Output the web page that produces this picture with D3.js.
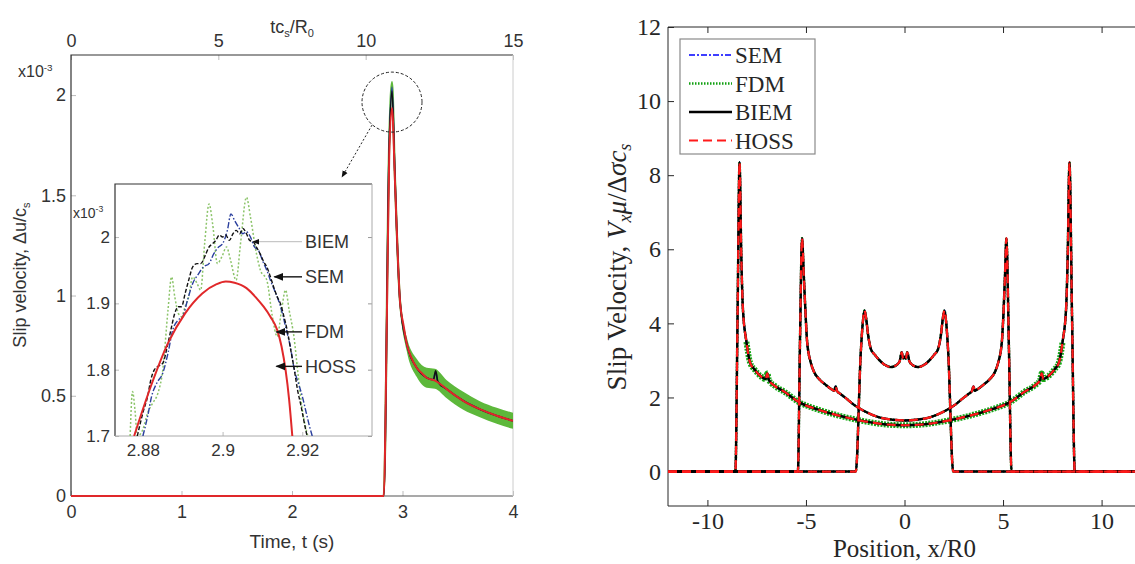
<!DOCTYPE html>
<html>
<head>
<meta charset="utf-8">
<script src="https://cdn.jsdelivr.net/npm/d3@7"></script>
<style>
  body { margin: 0; background: #fff; }
  svg { display: block; }
</style>
</head>
<body>
<svg id="chart" width="1135" height="564"></svg>
<script>
// ---------- left panel: slip velocity vs time (x1e-3) ----------
const timeTicks = [0, 1, 2, 3, 4];
const topTicks = [0, 5, 10, 15];
const slipTicks = [0, 0.5, 1, 1.5, 2];

const hossT = [0, 2.83, 2.86, 2.88, 2.905, 2.93, 2.947, 2.977, 3.01, 3.038, 3.08, 3.128, 3.18, 3.219, 3.294, 3.35, 3.40, 3.55, 3.70, 3.853, 4.0];
const hossV = [0, 0, 0.95, 1.70, 1.935, 1.6, 1.34, 0.975, 0.85, 0.76, 0.69, 0.64, 0.61, 0.59, 0.575, 0.555, 0.533, 0.475, 0.433, 0.40, 0.375];

const biemT = [0, 2.83, 2.88, 2.905, 2.93, 2.947, 2.977, 3.038, 3.128, 3.219, 3.28, 3.30, 3.32, 3.40, 3.55, 3.70, 3.853, 4.0];
const biemV = [0, 0, 1.75, 2.02, 1.62, 1.34, 0.975, 0.76, 0.64, 0.59, 0.58, 0.625, 0.57, 0.533, 0.475, 0.433, 0.40, 0.375];
const semV  = [0, 0, 1.76, 2.04, 1.62, 1.34, 0.975, 0.76, 0.64, 0.59, 0.58, 0.62, 0.57, 0.533, 0.475, 0.433, 0.40, 0.375];

const fdmT = [0, 2.83, 2.88, 2.905, 2.93, 2.947, 2.977, 3.038, 3.128, 3.219, 3.294, 3.40, 3.55, 3.70, 3.853, 4.0];
const fdmV = [0, 0, 1.77, 2.065, 1.62, 1.34, 0.975, 0.76, 0.64, 0.59, 0.585, 0.533, 0.475, 0.433, 0.40, 0.375];
const fdmSpread = [0, 0, 0, 0, 0, 0.005, 0.02, 0.035, 0.045, 0.05, 0.05, 0.045, 0.045, 0.04, 0.04, 0.04];

// inset (zoom on the peak)
const insetTicksX = [2.88, 2.9, 2.92];
const insetTicksY = [1.7, 1.8, 1.9, 2];

const inHossT = [2.8778, 2.882, 2.8863, 2.8906, 2.8949, 2.8985, 2.9008, 2.903, 2.906, 2.9085, 2.9103, 2.912, 2.9137, 2.9148, 2.9158, 2.9167, 2.9175];
const inHossV = [1.70, 1.775, 1.84, 1.885, 1.915, 1.929, 1.933, 1.931, 1.923, 1.908, 1.895, 1.88, 1.86, 1.835, 1.80, 1.755, 1.70];

const inBiemT = [2.8786, 2.8800, 2.8812, 2.8820, 2.8829, 2.8838, 2.8850, 2.8863, 2.8872, 2.8880, 2.8889, 2.8897, 2.8906, 2.8915, 2.8925, 2.8936, 2.8945, 2.8957, 2.8966, 2.8975, 2.8983, 2.8992, 2.9000, 2.9008, 2.9017, 2.9026, 2.9034, 2.9043, 2.9051, 2.9060, 2.9068, 2.9077, 2.9085, 2.9094, 2.9103, 2.9111, 2.9120, 2.9128, 2.9137, 2.9145, 2.9154, 2.9162, 2.9171, 2.9180, 2.9188, 2.9197, 2.9205, 2.9212];
const inBiemV = [1.70, 1.735, 1.76, 1.785, 1.80, 1.805, 1.81, 1.84, 1.865, 1.885, 1.895, 1.895, 1.915, 1.935, 1.955, 1.96, 1.96, 1.973, 1.985, 1.99, 1.995, 2.003, 2.00, 2.003, 1.995, 2.005, 2.01, 2.005, 2.013, 2.005, 1.995, 1.993, 1.985, 1.975, 1.963, 1.955, 1.94, 1.925, 1.91, 1.90, 1.88, 1.86, 1.83, 1.80, 1.77, 1.745, 1.72, 1.70];

const inSemT = [2.8800, 2.8812, 2.8822, 2.8835, 2.8850, 2.8863, 2.8875, 2.8889, 2.8900, 2.8912, 2.8925, 2.8940, 2.8952, 2.8966, 2.8978, 2.8990, 2.9000, 2.9012, 2.9021, 2.9030, 2.9040, 2.9051, 2.9060, 2.9070, 2.9080, 2.9090, 2.9100, 2.9111, 2.9120, 2.9130, 2.9140, 2.9150, 2.9160, 2.9170, 2.9180, 2.9190, 2.9200, 2.9210, 2.9218, 2.9225];
const inSemV = [1.70, 1.73, 1.76, 1.78, 1.795, 1.825, 1.86, 1.875, 1.88, 1.905, 1.93, 1.945, 1.955, 1.96, 1.975, 1.985, 1.99, 2.01, 2.035, 2.025, 2.015, 2.005, 2.008, 2.0, 1.985, 1.98, 1.965, 1.95, 1.935, 1.92, 1.905, 1.885, 1.86, 1.835, 1.80, 1.78, 1.76, 1.735, 1.715, 1.70];

const inFdmT = [2.8768, 2.8774, 2.8780, 2.8786, 2.8800, 2.8812, 2.8825, 2.8838, 2.8850, 2.8863, 2.8872, 2.8880, 2.8889, 2.8897, 2.8906, 2.8915, 2.8925, 2.8936, 2.8945, 2.8955, 2.8966, 2.8975, 2.8987, 2.8998, 2.9010, 2.9020, 2.9034, 2.9045, 2.9060, 2.9070, 2.9085, 2.9095, 2.9111, 2.9125, 2.9137, 2.9148, 2.9158, 2.9167, 2.9179, 2.9190, 2.9200, 2.9214];
const inFdmV = [1.70, 1.767, 1.74, 1.70, 1.71, 1.735, 1.75, 1.765, 1.80, 1.89, 1.94, 1.91, 1.885, 1.88, 1.895, 1.91, 1.94, 1.93, 1.92, 1.99, 2.05, 2.02, 1.96, 1.97, 1.985, 1.965, 1.935, 1.99, 2.06, 2.03, 1.975, 1.95, 1.935, 1.88, 1.85, 1.89, 1.92, 1.89, 1.85, 1.79, 1.74, 1.70];

const insetNames = ["BIEM", "SEM", "FDM", "HOSS"];
const insetArrowT = [2.9076, 2.913, 2.9135, 2.9135];
const insetArrowV = [1.993, 1.94, 1.857, 1.805];

// ---------- right panel: slip velocity vs position ----------
const posTicks = [-10, -5, 0, 5, 10];
const velTicks = [0, 2, 4, 6, 8, 10, 12];
const methods = ["SEM", "FDM", "BIEM", "HOSS"];

const snap1X = [-12, -2.47, -2.22, -2.12, -2.03, -1.95, -1.85, -1.7, -1.5, -1.3, -1.0, -0.7, -0.45, -0.25, -0.14, -0.07, 0, 0.07, 0.14, 0.25, 0.45, 0.7, 1.0, 1.3, 1.5, 1.7, 1.85, 1.95, 2.03, 2.12, 2.22, 2.47, 12];
const snap1V = [0, 0, 3.2, 4.0, 4.35, 4.15, 3.7, 3.3, 3.15, 3.02, 2.88, 2.82, 2.86, 2.97, 3.22, 3.05, 3.1, 3.05, 3.22, 2.97, 2.86, 2.82, 2.88, 3.02, 3.15, 3.3, 3.7, 4.15, 4.35, 4.0, 3.2, 0, 0];

const snap2X = [-12, -5.41, -5.3, -5.2, -5.11, -5.02, -4.94, -4.76, -4.6, -4.3, -4.0, -3.7, -3.56, -3.5, -3.42, -3.26, -2.9, -2.56, -2.0, -1.32, -0.6, 0, 0.6, 1.32, 2.0, 2.56, 2.9, 3.26, 3.42, 3.5, 3.56, 3.7, 4.0, 4.3, 4.6, 4.76, 4.94, 5.02, 5.1, 5.17, 5.3, 5.43, 12];
const snap2V = [0, 0, 3.6, 6.3, 5.3, 4.25, 3.5, 2.95, 2.7, 2.48, 2.34, 2.22, 2.18, 2.3, 2.17, 2.1, 1.95, 1.8, 1.62, 1.47, 1.4, 1.38, 1.4, 1.47, 1.62, 1.8, 1.95, 2.1, 2.17, 2.3, 2.18, 2.22, 2.34, 2.48, 2.7, 2.95, 3.5, 4.25, 5.3, 6.3, 3.3, 0, 0];

const snap3X = [-12, -8.58, -8.47, -8.37, -8.28, -8.2, -8.02, -7.84, -7.6, -7.31, -7.05, -6.96, -6.88, -6.6, -6.08, -5.38, -4.49, -3.61, -2.7, -1.85, -0.9, 0, 0.9, 1.85, 2.7, 3.61, 4.49, 5.38, 6.08, 6.6, 6.88, 6.96, 7.05, 7.31, 7.6, 7.84, 8.02, 8.2, 8.28, 8.37, 8.5, 8.64, 12];
const snap3V = [0, 0, 4.2, 8.35, 5.8, 4.4, 3.5, 2.95, 2.75, 2.58, 2.5, 2.65, 2.47, 2.32, 2.15, 1.88, 1.69, 1.55, 1.43, 1.34, 1.27, 1.25, 1.27, 1.34, 1.43, 1.55, 1.69, 1.88, 2.15, 2.32, 2.47, 2.65, 2.5, 2.58, 2.75, 2.95, 3.5, 4.4, 5.8, 8.35, 4.2, 0, 0];

const snapshots = [[snap1X, snap1V], [snap2X, snap2V], [snap3X, snap3V]];

// ---------- drawing ----------
const svg = d3.select("#chart");
const sans = "'Liberation Sans', Arial, sans-serif";
const serif = "'Liberation Serif', 'Times New Roman', serif";

const defs = svg.append("defs");
function marker(id, color) {
  defs.append("marker")
    .attr("id", id)
    .attr("viewBox", "0 0 10 10")
    .attr("refX", 9).attr("refY", 5)
    .attr("markerWidth", 7).attr("markerHeight", 7)
    .attr("orient", "auto")
    .append("path")
    .attr("d", "M0,1 L10,5 L0,9 Z")
    .attr("fill", color);
}
marker("arr", "#111");

function pathOf(xs, ys, sx, sy, curve) {
  return d3.line()
    .x(d => sx(d))
    .y((d, i) => sy(ys[i]))
    .curve(curve || d3.curveLinear)(xs);
}

// left panel scales
const L = { left: 71, right: 513, top: 55, bottom: 496 };
const x = d3.scaleLinear().domain([0, 4]).range([L.left, L.right]);
const xTop = d3.scaleLinear().domain([0, 15]).range([L.left, L.right]);
const y = d3.scaleLinear().domain([0, 2.2]).range([L.bottom, L.top]);

const left = svg.append("g").attr("font-family", sans).attr("fill", "#333");

defs.append("clipPath").attr("id", "clipL").append("rect")
  .attr("x", L.left).attr("y", L.top - 20)
  .attr("width", L.right - L.left).attr("height", L.bottom - L.top + 22);

function styleAxis(g, size) {
  g.select(".domain").remove();
  g.selectAll(".tick line").attr("stroke", "#bbb");
  g.selectAll(".tick text").attr("font-size", size).attr("fill", "#333")
    .attr("font-family", g.attr("data-font"));
}

left.append("g")
  .attr("transform", `translate(0,${L.bottom})`)
  .attr("data-font", sans)
  .call(d3.axisBottom(x).tickValues(timeTicks).tickFormat(d3.format("d"))
    .tickSizeInner(-5).tickSizeOuter(0).tickPadding(9))
  .call(g => styleAxis(g, 18));

left.append("g")
  .attr("transform", `translate(0,${L.top})`)
  .attr("data-font", sans)
  .call(d3.axisTop(xTop).tickValues(topTicks).tickFormat(d3.format("d"))
    .tickSizeInner(-5).tickSizeOuter(0).tickPadding(8))
  .call(g => styleAxis(g, 18));

left.append("g")
  .attr("transform", `translate(${L.left},0)`)
  .attr("data-font", sans)
  .call(d3.axisLeft(y).tickValues(slipTicks).tickFormat(d3.format("~g"))
    .tickSizeInner(-5).tickSizeOuter(0).tickPadding(5))
  .call(g => styleAxis(g, 18));

// box
left.append("path")
  .attr("d", `M${L.left},${L.bottom}V${L.top}H${L.right}`)
  .attr("fill", "none").attr("stroke", "#333").attr("stroke-width", 1.2);
left.append("line")
  .attr("x1", L.left).attr("x2", L.right).attr("y1", L.bottom).attr("y2", L.bottom)
  .attr("stroke", "#555").attr("stroke-width", 1.2);
left.append("line")
  .attr("x1", L.right).attr("x2", L.right).attr("y1", L.top).attr("y2", L.bottom)
  .attr("stroke", "#ccc");

// labels
left.append("text").attr("x", (L.left + L.right) / 2).attr("y", 548)
  .attr("text-anchor", "middle").attr("font-size", 19).text("Time, t (s)");

const tlab = left.append("text").attr("x", 292).attr("y", 33)
  .attr("text-anchor", "middle").attr("font-size", 18);
tlab.append("tspan").text("tc");
tlab.append("tspan").attr("font-size", 11).attr("dy", 4).text("s");
tlab.append("tspan").attr("dy", -4).text("/R");
tlab.append("tspan").attr("font-size", 11).attr("dy", 4).text("0");

const ylab = left.append("text")
  .attr("transform", "translate(26,275) rotate(-90)")
  .attr("text-anchor", "middle").attr("font-size", 18);
ylab.append("tspan").text("Slip velocity, Δu/c");
ylab.append("tspan").attr("font-size", 11).attr("dy", 4).text("s");

function expLabel(g, px, py, size) {
  const t = g.append("text").attr("x", px).attr("y", py).attr("font-size", size);
  t.append("tspan").text("x10");
  t.append("tspan").attr("font-size", size * 0.62).attr("dy", -size * 0.4).text("-3");
}
expLabel(left, 18, 77, 16);

// main curves
const mainG = left.append("g").attr("clip-path", "url(#clipL)");
mainG.append("path")
  .attr("d", d3.area().x(d => x(d))
    .y0((d, i) => y(fdmV[i] - fdmSpread[i]))
    .y1((d, i) => y(fdmV[i] + fdmSpread[i]))
    .curve(d3.curveMonotoneX)(fdmT))
  .attr("fill", "#5db83b");
mainG.append("path").attr("d", pathOf(fdmT, fdmV, x, y, d3.curveMonotoneX))
  .attr("fill", "none").attr("stroke", "#5db83b").attr("stroke-width", 2.2);
mainG.append("path").attr("d", pathOf(biemT, semV, x, y, d3.curveMonotoneX))
  .attr("fill", "none").attr("stroke", "#2a3f9d").attr("stroke-width", 1.6);
mainG.append("path").attr("d", pathOf(biemT, biemV, x, y, d3.curveMonotoneX))
  .attr("fill", "none").attr("stroke", "#111").attr("stroke-width", 1.6);
mainG.append("path").attr("d", pathOf(hossT, hossV, x, y, d3.curveMonotoneX))
  .attr("fill", "none").attr("stroke", "#e0282a").attr("stroke-width", 2);

// zoom circle and arrow
const cx = x(2.905), cy = y(1.965);
left.append("circle").attr("cx", cx).attr("cy", cy).attr("r", 30)
  .attr("fill", "none").attr("stroke", "#222").attr("stroke-dasharray", "3,2");

// inset
const I = { left: 115, right: 372, top: 184, bottom: 436 };
const ix = d3.scaleLinear().domain([2.873, 2.9375]).range([I.left, I.right]);
const iy = d3.scaleLinear().domain([1.7, 2.08]).range([I.bottom, I.top]);

left.append("line")
  .attr("x1", cx - 20).attr("y1", cy + 23)
  .attr("x2", I.right - 30).attr("y2", I.top - 7)
  .attr("stroke", "#222").attr("stroke-dasharray", "2,2")
  .attr("marker-end", "url(#arr)");

const inset = left.append("g");
inset.append("rect").attr("x", I.left).attr("y", I.top)
  .attr("width", I.right - I.left).attr("height", I.bottom - I.top).attr("fill", "#fff");

defs.append("clipPath").attr("id", "clipI").append("rect")
  .attr("x", I.left).attr("y", I.top).attr("width", I.right - I.left).attr("height", I.bottom - I.top);

inset.append("g").attr("transform", `translate(0,${I.bottom})`).attr("data-font", sans)
  .call(d3.axisBottom(ix).tickValues(insetTicksX).tickFormat(d3.format("~g"))
    .tickSizeInner(-4).tickSizeOuter(0).tickPadding(8))
  .call(g => styleAxis(g, 17));
inset.append("g").attr("transform", `translate(${I.left},0)`).attr("data-font", sans)
  .call(d3.axisLeft(iy).tickValues(insetTicksY).tickFormat(d3.format("~g"))
    .tickSizeInner(-4).tickSizeOuter(0).tickPadding(5))
  .call(g => styleAxis(g, 17));
inset.append("g").attr("transform", `translate(${I.right},0)`)
  .call(d3.axisRight(iy).tickValues(insetTicksY).tickFormat("")
    .tickSizeInner(-4).tickSizeOuter(0))
  .call(g => { g.select(".domain").remove(); g.selectAll(".tick line").attr("stroke", "#999"); });

inset.append("path").attr("d", `M${I.left},${I.bottom}V${I.top}H${I.right}`)
  .attr("fill", "none").attr("stroke", "#333").attr("stroke-width", 1.2);
inset.append("path").attr("d", `M${I.right},${I.top}V${I.bottom}H${I.left}`)
  .attr("fill", "none").attr("stroke", "#aaa");
expLabel(inset, 73, 218, 14);

const inCurves = inset.append("g").attr("clip-path", "url(#clipI)");
inCurves.append("path").attr("d", pathOf(inFdmT, inFdmV, ix, iy, d3.curveMonotoneX))
  .attr("fill", "none").attr("stroke", "#8cc46a").attr("stroke-width", 1.5).attr("stroke-dasharray", "2,2");
inCurves.append("path").attr("d", pathOf(inSemT, inSemV, ix, iy, d3.curveMonotoneX))
  .attr("fill", "none").attr("stroke", "#2a3f9d").attr("stroke-width", 1.4).attr("stroke-dasharray", "6,2,1.5,2");
inCurves.append("path").attr("d", pathOf(inBiemT, inBiemV, ix, iy, d3.curveMonotoneX))
  .attr("fill", "none").attr("stroke", "#111").attr("stroke-width", 1.4).attr("stroke-dasharray", "4,2");
inCurves.append("path").attr("d", pathOf(inHossT, inHossV, ix, iy, d3.curveMonotoneX))
  .attr("fill", "none").attr("stroke", "#e0282a").attr("stroke-width", 2);

insetNames.forEach((name, k) => {
  const tx = ix(insetArrowT[k]), ty = iy(insetArrowV[k]);
  inset.append("line")
    .attr("x1", 302).attr("y1", ty).attr("x2", tx).attr("y2", ty)
    .attr("stroke", k === 0 ? "#bbb" : "#111").attr("stroke-width", k === 0 ? 1 : 1.4)
    .attr("marker-end", "url(#arr)");
  inset.append("text").attr("x", 305).attr("y", ty).attr("dy", "0.36em")
    .attr("font-size", 18).attr("fill", "#333").text(name);
});

// ---------- right panel ----------
const R = { left: 668, right: 1141, top: 27, bottom: 506 };
const rx = d3.scaleLinear().domain([-12, 12]).range([R.left, R.right]);
const ry = d3.scaleLinear().domain([-0.93, 12]).range([R.bottom, R.top]);

const right = svg.append("g").attr("font-family", serif).attr("fill", "#262626");
defs.append("clipPath").attr("id", "clipR").append("rect")
  .attr("x", R.left).attr("y", R.top).attr("width", R.right - R.left).attr("height", R.bottom - R.top);

function styleR(g) {
  g.select(".domain").remove();
  g.selectAll(".tick line").attr("stroke", "#262626");
  g.selectAll(".tick text").attr("font-size", 24).attr("fill", "#262626").attr("font-family", serif);
}
right.append("g").attr("transform", `translate(0,${R.bottom})`)
  .call(d3.axisBottom(rx).tickValues(posTicks).tickFormat(d => String(d))
    .tickSizeInner(-6).tickSizeOuter(0).tickPadding(6))
  .call(styleR);
right.append("g").attr("transform", `translate(0,${R.top})`)
  .call(d3.axisTop(rx).tickValues(posTicks).tickFormat("")
    .tickSizeInner(-6).tickSizeOuter(0))
  .call(styleR);
right.append("g").attr("transform", `translate(${R.left},0)`)
  .call(d3.axisLeft(ry).tickValues(velTicks).tickFormat(d => String(d))
    .tickSizeInner(-6).tickSizeOuter(0).tickPadding(7))
  .call(styleR);

right.append("path")
  .attr("d", `M${R.right},${R.top}H${R.left}V${R.bottom}H${R.right}`)
  .attr("fill", "none").attr("stroke", "#262626").attr("stroke-width", 1);

right.append("text").attr("x", rx(0)).attr("y", 557).attr("text-anchor", "middle")
  .attr("font-size", 25).text("Position, x/R0");

const rylab = right.append("text")
  .attr("transform", "translate(617,267) rotate(-90)")
  .attr("text-anchor", "middle").attr("dy", "0.35em").attr("font-size", 27);
rylab.append("tspan").text("Slip Velocity, ");
rylab.append("tspan").attr("font-style", "italic").text("V");
rylab.append("tspan").attr("font-style", "italic").attr("font-size", 18).attr("dy", 5).text("x");
rylab.append("tspan").attr("font-style", "italic").attr("dy", -5).text("μ");
rylab.append("tspan").text("/Δ");
rylab.append("tspan").attr("font-style", "italic").text("σc");
rylab.append("tspan").attr("font-style", "italic").attr("font-size", 18).attr("dy", 5).text("s");

const styles = {
  SEM:  { stroke: "#3f3fff", width: 2, dash: "6,2,2,2" },
  FDM:  { stroke: "#10a010", width: 2.5, dash: "1.5,1.5" },
  BIEM: { stroke: "#000", width: 2.4, dash: null },
  HOSS: { stroke: "#ff1a1a", width: 2.2, dash: "9,5" }
};

const curvesR = right.append("g").attr("clip-path", "url(#clipR)");

// FDM scatter along the outer front
const fdmIdx = snap3X.map((d, i) => i).filter(i => Math.abs(snap3X[i]) < 8.05 && snap3V[i] > 0);
curvesR.append("path")
  .attr("d", pathOf(fdmIdx.map(i => snap3X[i]), fdmIdx.map(i => snap3V[i]), rx, ry, d3.curveMonotoneX))
  .attr("fill", "none").attr("stroke", "#18a818").attr("stroke-width", 6).attr("stroke-dasharray", "2,1.2");

methods.forEach(m => {
  const s = styles[m];
  snapshots.forEach(([xs, vs]) => {
    curvesR.append("path").attr("d", pathOf(xs, vs, rx, ry, d3.curveMonotoneX))
      .attr("fill", "none").attr("stroke", s.stroke).attr("stroke-width", s.width)
      .attr("stroke-dasharray", s.dash);
  });
});

// legend
const lg = right.append("g");
lg.append("rect").attr("x", 680).attr("y", 39).attr("width", 135).attr("height", 115)
  .attr("fill", "#fff").attr("stroke", "#8a8a8a").attr("stroke-width", 1.2);
methods.forEach((m, k) => {
  const s = styles[m];
  const ly = 55 + k * 28.5;
  lg.append("line").attr("x1", 689).attr("x2", 732).attr("y1", ly).attr("y2", ly)
    .attr("stroke", s.stroke).attr("stroke-width", s.width).attr("stroke-dasharray", s.dash);
  lg.append("text").attr("x", 735).attr("y", ly).attr("dy", "0.35em")
    .attr("font-size", 23).text(m);
});
</script>
</body>
</html>
